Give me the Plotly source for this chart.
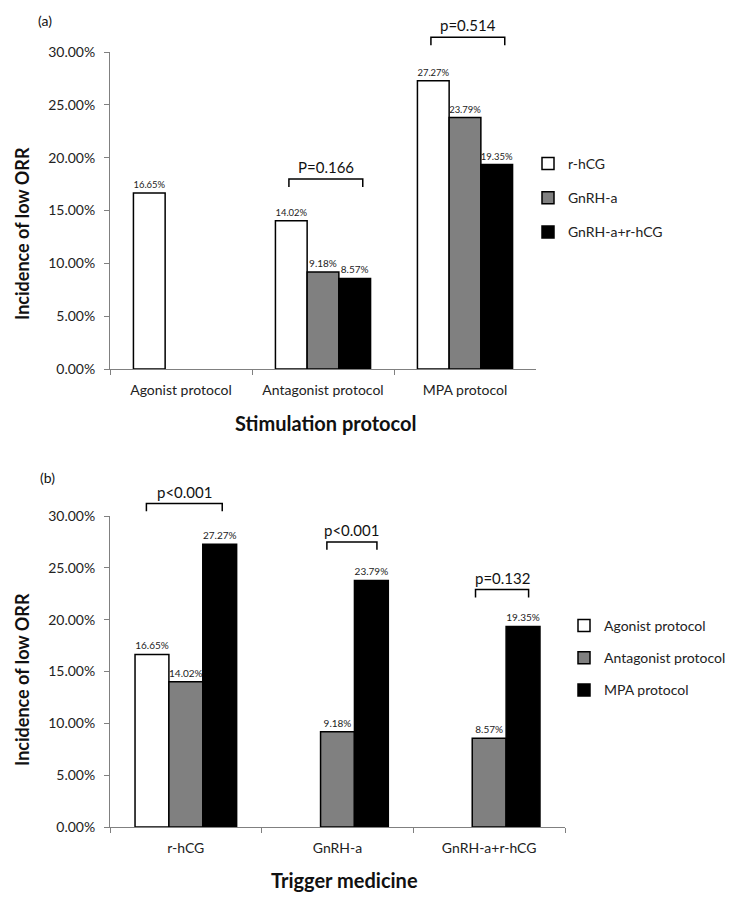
import plotly.graph_objects as go

protocols = ["Agonist protocol", "Antagonist protocol", "MPA protocol"]
triggers = ["r-hCG", "GnRH-a", "GnRH-a+r-hCG"]

# incidence of low ORR (%), panel (a): one series per trigger medicine
rhcg_a = [16.65, 14.02, 27.27]
gnrha_a = [None, 9.18, 23.79]
combo_a = [None, 8.57, 19.35]

# panel (b): one series per stimulation protocol
agonist_b = [16.65, None, None]
antagonist_b = [14.02, 9.18, 8.57]
mpa_b = [27.27, 23.79, 19.35]

y_ticks = [0, 5, 10, 15, 20, 25, 30]
y_ticktext = [f"{v:.2f}%" for v in y_ticks]
p_labels_a = ["P=0.166", "p=0.514"]
p_labels_b = ["p<0.001", "p<0.001", "p=0.132"]

# the page body has an 8px margin, so the figure is a bit smaller than the window
PAD = 8
W, H = 744 - 2 * PAD, 906 - 2 * PAD
FONT = "Lato"
fills = ["#ffffff", "#808080", "#000000"]

# plot areas in window pixels (left, right, top, bottom)
area_a = (110, 536, 52, 369)
area_b = (110, 565, 516, 827)


def px(x, y):
    return (x - PAD) / W, 1 - (y - PAD) / H


def dom(area):
    l, r, t, b = area
    x0, y0 = px(l, b)
    x1, y1 = px(r, t)
    return [x0, x1], [y0, y1]


def to_paper(area, idx, off, val):
    l, r, t, b = area
    x = l + (idx + 0.5 + off) / 3 * (r - l)
    y = b - val / 30 * (b - t)
    return px(x, y)


def label(x, y, text, size, angle=0):
    xp, yp = px(x, y)
    fig.add_annotation(x=xp, y=yp, xref="paper", yref="paper", text=text, textangle=angle,
                       showarrow=False, xanchor="center", yanchor="middle", font=dict(size=size, color="#111"))


fig = go.Figure()

for name, vals, col in zip(triggers, [rhcg_a, gnrha_a, combo_a], fills):
    fig.add_trace(go.Bar(
        x=protocols, y=vals, name=name, marker=dict(color=col, line=dict(color="black", width=1.5)),
        texttemplate="%{y:.2f}%", textposition="outside", cliponaxis=False,
        textfont=dict(size=10, color="#222"), xaxis="x", yaxis="y",
        legend="legend", legendgroup="a_" + name))

for name, vals, col in zip(protocols, [agonist_b, antagonist_b, mpa_b], fills):
    fig.add_trace(go.Bar(
        x=triggers, y=vals, name=name, marker=dict(color=col, line=dict(color="black", width=1.5)),
        texttemplate="%{y:.2f}%", textposition="outside", cliponaxis=False,
        textfont=dict(size=10, color="#222"), xaxis="x2", yaxis="y2",
        legend="legend2", legendgroup="b_" + name))

xa, ya = dom(area_a)
xb, yb = dom(area_b)

xaxis_style = dict(showline=True, linecolor="#808080", linewidth=1, ticks="outside", tickson="boundaries",
                   ticklen=5, tickcolor="#808080", tickfont=dict(size=14, color="#222"),
                   ticklabelstandoff=8, automargin=False, showgrid=False)
yaxis_style = dict(range=[0, 30], tickvals=y_ticks, ticktext=y_ticktext, showline=True,
                   linecolor="#808080", linewidth=1, ticks="outside", ticklen=5, tickcolor="#808080",
                   showgrid=False, zeroline=False, tickfont=dict(size=14, color="#222"),
                   ticklabelstandoff=6, automargin=False)

leg1_x, leg1_y = px(528, 148)
leg2_x, leg2_y = px(564, 610)

fig.update_layout(
    width=W, height=H, margin=dict(l=0, r=0, t=0, b=0, autoexpand=False),
    paper_bgcolor="white", plot_bgcolor="white",
    font=dict(family=FONT, color="#111"),
    barmode="group", bargap=0.33, bargroupgap=0,
    xaxis=dict(domain=xa, anchor="y", **xaxis_style),
    yaxis=dict(domain=ya, anchor="x", **yaxis_style),
    xaxis2=dict(domain=xb, anchor="y2", **xaxis_style),
    yaxis2=dict(domain=yb, anchor="x2", **yaxis_style),
    legend=dict(x=leg1_x, y=leg1_y, xanchor="left", yanchor="top", traceorder="grouped",
                tracegroupgap=13, font=dict(size=14, color="#222"), bgcolor="rgba(0,0,0,0)"),
    legend2=dict(x=leg2_x, y=leg2_y, xanchor="left", yanchor="top", traceorder="grouped",
                 tracegroupgap=11, font=dict(size=14, color="#222"), bgcolor="rgba(0,0,0,0)"),
)

# significance brackets: (area, category, left, right, height, label)
brackets = [
    (area_a, 1, -0.24, 0.28, 17.98, p_labels_a[0]),
    (area_a, 2, -0.24, 0.28, 31.4, p_labels_a[1]),
    (area_b, 0, -0.26, 0.24, 31.2, p_labels_b[0]),
    (area_b, 1, -0.07, 0.26, 27.5, p_labels_b[1]),
    (area_b, 2, -0.09, 0.26, 22.9, p_labels_b[2]),
]
for area, idx, lo, hi, h, text in brackets:
    x0, y0 = to_paper(area, idx, lo, h)
    x1, _ = to_paper(area, idx, hi, h)
    _, yd = to_paper(area, idx, lo, h - 0.75)
    fig.add_shape(type="path", xref="paper", yref="paper",
                  path=f"M{x0},{yd} L{x0},{y0} L{x1},{y0} L{x1},{yd}",
                  line=dict(color="black", width=1.5))
    fig.add_annotation(x=(x0 + x1) / 2, y=y0, xref="paper", yref="paper", text=text,
                       showarrow=False, xanchor="center", yanchor="bottom", yshift=1,
                       font=dict(size=15, color="#111"))

# panel letters and axis titles
label(45, 20, "(a)", 14)
label(47, 477, "(b)", 14)
label(22, 234, "<b>Incidence of low ORR</b>", 18, -90)
label(22, 680, "<b>Incidence of low ORR</b>", 18, -90)
label(326, 423, "<b>Stimulation protocol</b>", 20)
label(344, 880, "<b>Trigger medicine</b>", 20)

fig.write_html("out.html")
